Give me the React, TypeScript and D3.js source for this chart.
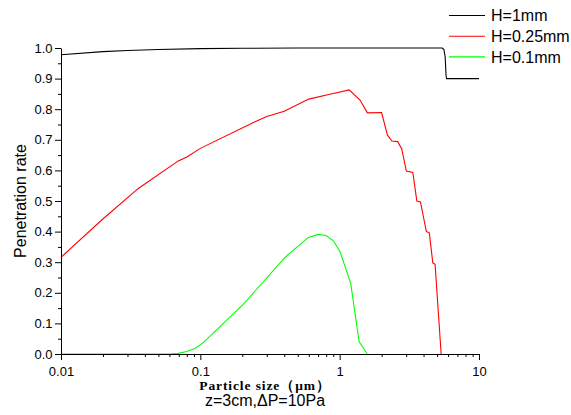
import React, { useEffect, useRef } from "react";
import * as d3 from "d3";

// Particle size (um) and penetration rate for each slit height
const blackX = [0.01, 0.02, 0.03, 0.05, 0.1, 0.2, 0.5, 1, 2, 5, 5.45, 5.6, 5.72, 5.8, 5.85, 10];
const blackY = [0.978, 0.988, 0.992, 0.995, 0.998, 0.999, 1, 1, 1, 1, 1, 0.995, 0.97, 0.91, 0.9, 0.9];

const redX = [0.01, 0.0196, 0.0359, 0.0695, 0.08, 0.1, 0.247, 0.3, 0.4, 0.6, 0.85, 1.17, 1.4, 1.58, 2.0, 2.2, 2.37, 2.61, 2.79, 3.01, 3.35, 3.58, 3.8, 4.19, 4.4, 4.66, 4.84, 5.35];
const redY = [0.316, 0.438, 0.541, 0.631, 0.644, 0.672, 0.759, 0.776, 0.793, 0.833, 0.849, 0.863, 0.83, 0.788, 0.789, 0.716, 0.696, 0.694, 0.67, 0.598, 0.593, 0.5, 0.497, 0.4, 0.396, 0.298, 0.293, 0.0];

const greenX = [0.01, 0.06, 0.0695, 0.0797, 0.0916, 0.105, 0.204, 0.405, 0.596, 0.703, 0.798, 0.901, 1.007, 1.2, 1.38, 1.58];
const greenY = [0, 0, 0.002, 0.008, 0.018, 0.037, 0.163, 0.316, 0.381, 0.391, 0.387, 0.37, 0.334, 0.231, 0.04, 0];

const seriesNames = ["H=1mm", "H=0.25mm", "H=0.1mm"];
const seriesColors = ["#000000", "#ff0000", "#00ff00"];

// ticks
const xMajor = [0.01, 0.1, 1, 10];
const xMinor = [0.02, 0.03, 0.04, 0.05, 0.06, 0.07, 0.08, 0.09, 0.2, 0.3, 0.4, 0.5, 0.6, 0.7, 0.8, 0.9, 2, 3, 4, 5, 6, 7, 8, 9];
const xTickLabels = ["0.01", "0.1", "1", "10"];
const yMajor = [0, 0.1, 0.2, 0.3, 0.4, 0.5, 0.6, 0.7, 0.8, 0.9, 1.0];
const yMinor = [0.05, 0.15, 0.25, 0.35, 0.45, 0.55, 0.65, 0.75, 0.85, 0.95];

const W = 571;
const H = 415;
const margin = { left: 61, right: 92, top: 48, bottom: 61 };

export default function App() {
  const ref = useRef<SVGSVGElement>(null);

  useEffect(() => {
    const svg = d3.select(ref.current);
    svg.selectAll("*").remove();

    const x = d3.scaleLog().domain([0.01, 10]).range([margin.left, W - margin.right]);
    const y = d3.scaleLinear().domain([0, 1]).range([H - margin.bottom, margin.top]);

    const font = "Arial, 'Liberation Sans', sans-serif";

    // curves
    const line = d3
      .line<[number, number]>()
      .x((d) => x(d[0]))
      .y((d) => y(d[1]));

    const series = [
      d3.zip(blackX, blackY),
      d3.zip(redX, redY),
      d3.zip(greenX, greenY),
    ] as [number, number][][];

    series.forEach((s, i) => {
      svg
        .append("path")
        .datum(s)
        .attr("d", line)
        .attr("fill", "none")
        .attr("stroke", seriesColors[i])
        .attr("stroke-width", 1.1);
    });

    // x axis
    const xAxisG = svg
      .append("g")
      .attr("transform", `translate(0,${y(0)})`)
      .call(
        d3
          .axisBottom(x)
          .tickValues(xMajor)
          .tickSize(6)
          .tickSizeOuter(0)
          .tickPadding(7)
          .tickFormat((d, i) => xTickLabels[i])
      );
    svg
      .append("g")
      .attr("transform", `translate(0,${y(0)})`)
      .call(d3.axisBottom(x).tickValues(xMinor).tickSize(3).tickSizeOuter(0).tickFormat(() => ""))
      .select(".domain")
      .remove();

    // y axis
    const yAxisG = svg
      .append("g")
      .attr("transform", `translate(${x(0.01)},0)`)
      .call(
        d3
          .axisLeft(y)
          .tickValues(yMajor)
          .tickSize(6)
          .tickSizeOuter(0)
          .tickPadding(2.5)
          .tickFormat(d3.format(".1f"))
      );
    svg
      .append("g")
      .attr("transform", `translate(${x(0.01)},0)`)
      .call(d3.axisLeft(y).tickValues(yMinor).tickSize(3).tickSizeOuter(0).tickFormat(() => ""))
      .select(".domain")
      .remove();

    [xAxisG, yAxisG].forEach((g) => {
      g.selectAll("text")
        .style("font-family", font)
        .style("font-size", "13px")
        .attr("fill", "#000");
      g.selectAll("line, path").attr("stroke", "#000");
    });

    // axis titles
    svg
      .append("text")
      .attr("transform", `translate(25.5,${(y(0) + y(1)) / 2}) rotate(-90)`)
      .attr("text-anchor", "middle")
      .style("font-family", font)
      .style("font-size", "16px")
      .text("Penetration rate");

    svg
      .append("text")
      .attr("x", 265)
      .attr("y", 390)
      .attr("text-anchor", "middle")
      .style("font-family", "'Liberation Serif', 'Times New Roman', serif")
      .style("font-weight", "bold")
      .style("font-size", "13.5px")
      .style("letter-spacing", "0.9px")
      .text("Particle size（μm）");

    svg
      .append("text")
      .attr("x", 265)
      .attr("y", 406)
      .attr("text-anchor", "middle")
      .style("font-family", font)
      .style("font-size", "16px")
      .text("z=3cm,ΔP=10Pa");

    // legend
    const legend = svg.append("g");
    seriesNames.forEach((name, i) => {
      const yy = 15.5 + i * 20.7;
      legend
        .append("line")
        .attr("x1", 449)
        .attr("x2", 485)
        .attr("y1", yy)
        .attr("y2", yy)
        .attr("stroke", seriesColors[i])
        .attr("stroke-width", 1.1);
      legend
        .append("text")
        .attr("x", 491)
        .attr("y", yy + 5.7)
        .style("font-family", font)
        .style("font-size", "16px")
        .text(name);
    });
  }, []);

  return (
    <svg
      ref={ref}
      width={W}
      height={H}
      style={{ position: "absolute", left: 0, top: 0, background: "#fff" }}
    />
  );
}
